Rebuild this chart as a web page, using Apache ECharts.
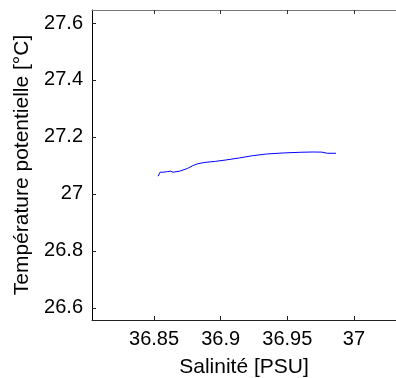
<!DOCTYPE html>
<html>
<head>
<meta charset="utf-8">
<script src="https://cdn.jsdelivr.net/npm/echarts@6/dist/echarts.min.js"></script>
<style>
  html, body { margin: 0; padding: 0; background: #fff; }
  #main { width: 396px; height: 378px; }
</style>
</head>
<body>
<div id="main"></div>
<script>
// profil T-S
var salinity = [36.8530, 36.8540, 36.8545, 36.8568, 36.8600, 36.8623, 36.8633, 36.8643,
                36.8690, 36.8750, 36.8790, 36.8830, 36.8890, 36.8960, 36.9040, 36.9140,
                36.9240, 36.9345, 36.9470, 36.9596, 36.9695, 36.9760, 36.9800, 36.9866];
var temperature = [27.0620, 27.0680, 27.0760, 27.0760, 27.0780, 27.0795, 27.0740, 27.0760,
                   27.0795, 27.0890, 27.0990, 27.1060, 27.1110, 27.1140, 27.1190, 27.1260,
                   27.1340, 27.1400, 27.1436, 27.1460, 27.1470, 27.1465, 27.1425, 27.1425];

var xTicks = [36.85, 36.9, 36.95, 37];
var yTicks = [26.6, 26.8, 27, 27.2, 27.4, 27.6];

var xMin = 36.8034, xMax = 37.0316;
var yMin = 26.557, yMax = 27.6456;

var points = [];
for (var i = 0; i < salinity.length; i++) {
    points.push([salinity[i], temperature[i]]);
}

var myChart = echarts.init(document.getElementById('main'));

var fontName = 'Liberation Sans, Arial, sans-serif';

option = {
    animation: false,
    textStyle: { fontFamily: fontName },
    grid: { left: 92, top: 10, right: 0, bottom: 58, containLabel: false, outerBoundsMode: 'none' },
    xAxis: [
        {
            type: 'value',
            position: 'bottom',
            min: xMin,
            max: xMax,
            name: 'Salinité [PSU]',
            nameLocation: 'middle',
            nameGap: 37,
            nameTextStyle: { color: '#000', fontSize: 21, fontFamily: fontName },
            axisLine: { lineStyle: { color: '#222', width: 1 } },
            axisTick: { inside: true, length: 4, lineStyle: { color: '#222' }, customValues: xTicks },
            axisLabel: { color: '#000', fontSize: 20, margin: 9, fontFamily: fontName, customValues: xTicks },
            splitLine: { show: false }
        },
        {
            type: 'value',
            position: 'top',
            min: xMin,
            max: xMax,
            axisLine: { lineStyle: { color: '#777', width: 1 } },
            axisTick: { inside: true, length: 4, lineStyle: { color: '#333' }, customValues: xTicks },
            axisLabel: { show: false },
            splitLine: { show: false }
        }
    ],
    yAxis: {
        type: 'value',
        min: yMin,
        max: yMax,
        name: 'Température potentielle [°C]',
        nameLocation: 'middle',
        nameGap: 55,
        nameTextStyle: { color: '#000', fontSize: 21, fontFamily: fontName },
        axisLine: { show: true, lineStyle: { color: '#000', width: 1 } },
        axisTick: { show: true, inside: true, length: 4, lineStyle: { color: '#222' }, customValues: yTicks },
        axisLabel: { color: '#000', fontSize: 20, margin: 9, fontFamily: fontName, customValues: yTicks },
        splitLine: { show: false }
    },
    series: [
        {
            type: 'line',
            data: points,
            showSymbol: false,
            symbol: 'none',
            lineStyle: { color: '#0000ff', width: 1 }
        }
    ]
};

myChart.setOption(option);
</script>
</body>
</html>
